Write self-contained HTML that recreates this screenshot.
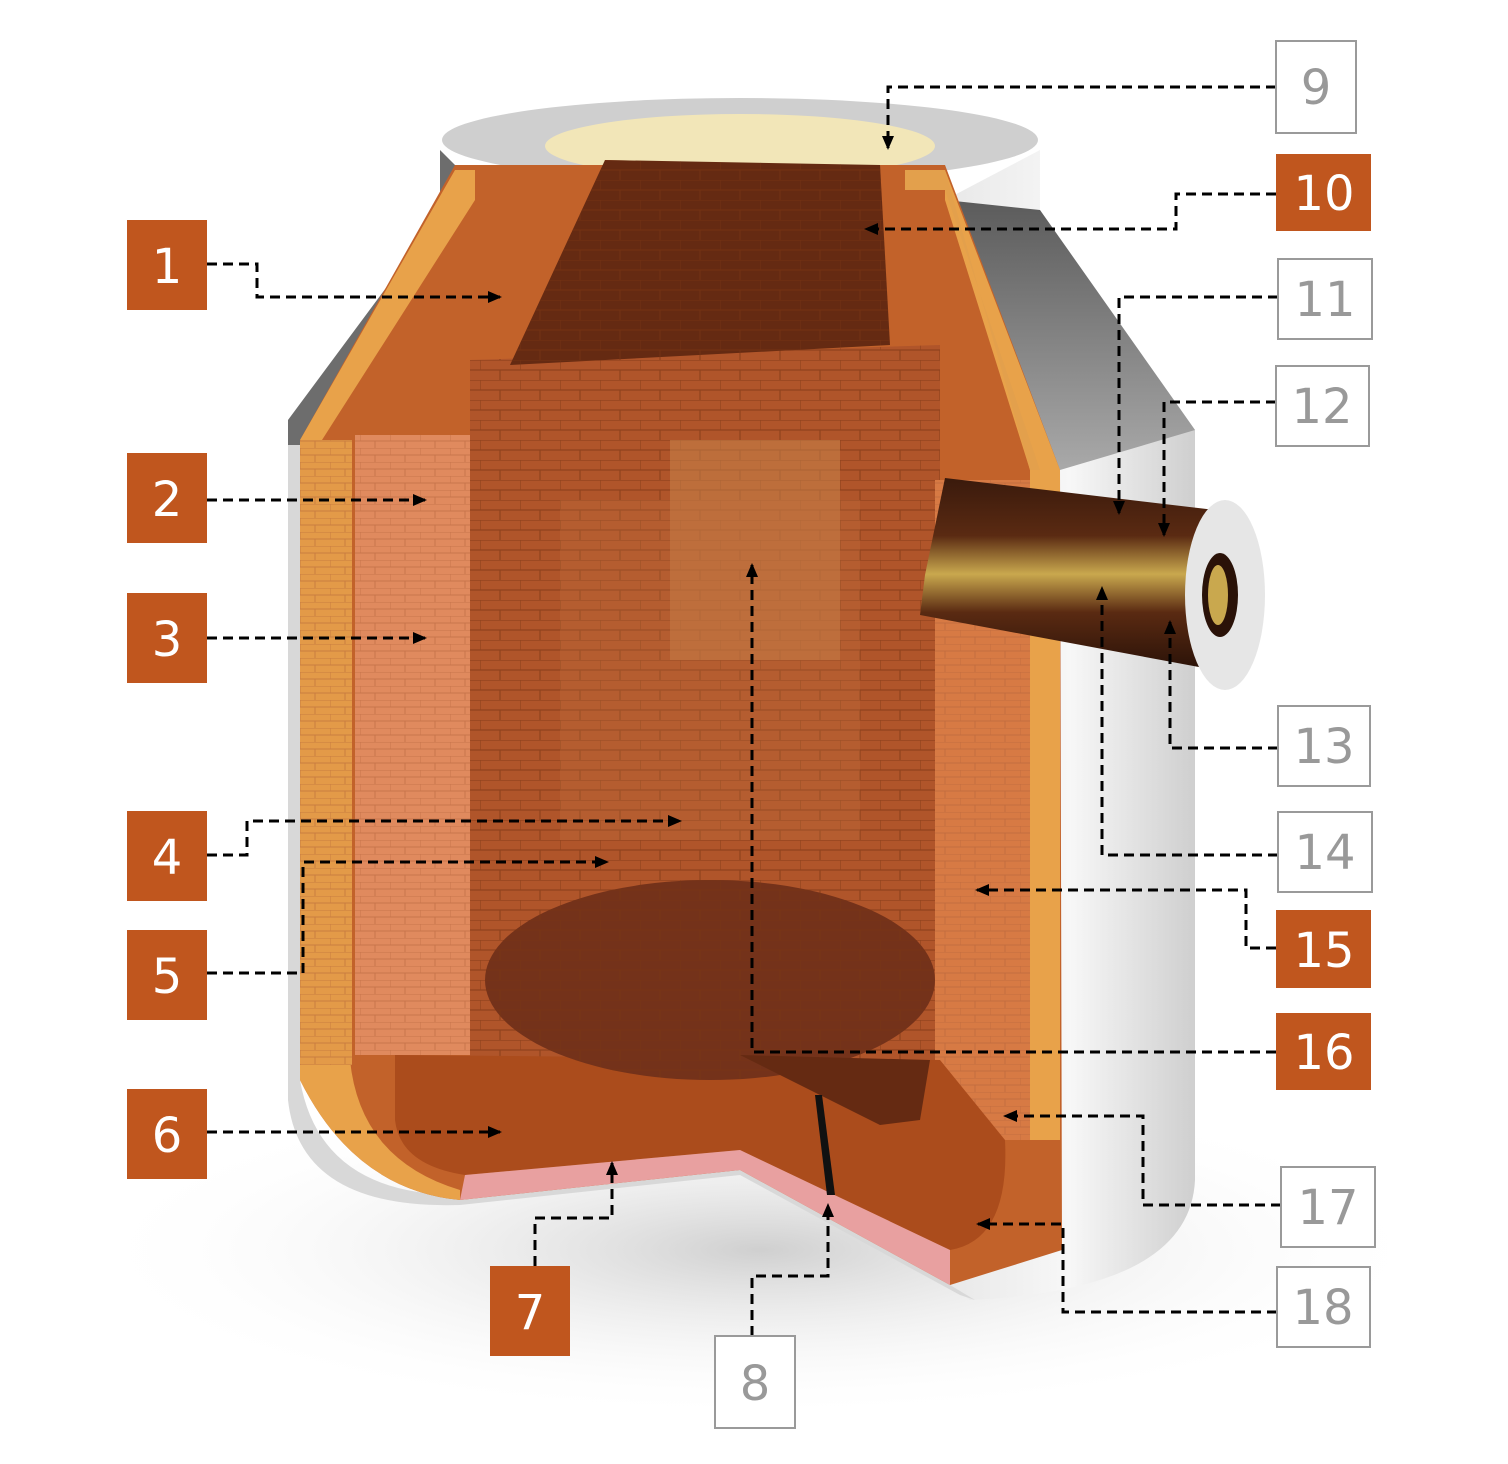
<!DOCTYPE html>
<html><head><meta charset="utf-8"><style>
html,body{margin:0;padding:0;background:#fff;}
svg{display:block;}
.lb{font-family:"DejaVu Sans","Liberation Sans",sans-serif;font-size:48px;text-anchor:middle;}
</style></head><body>
<svg width="1508" height="1464" viewBox="0 0 1508 1464" xmlns="http://www.w3.org/2000/svg">
<defs>
<pattern id="brick" width="40" height="20" patternUnits="userSpaceOnUse">
<path d="M0 0H40M0 10H40M0 0V10M20 10V20" stroke="#7a3414" stroke-width="1.2" opacity="0.6"/>
</pattern>
<pattern id="brickL" width="30" height="14" patternUnits="userSpaceOnUse">
<path d="M0 0H30M0 7H30M0 0V7M15 7V14" stroke="#b0603a" stroke-width="1" opacity="0.5"/>
</pattern>
<linearGradient id="shell" x1="0" x2="1" y1="0" y2="0">
<stop offset="0" stop-color="#e8e8e8"/><stop offset="0.5" stop-color="#f7f7f7"/><stop offset="1" stop-color="#cfcfcf"/>
</linearGradient>
<linearGradient id="cone" x1="0" x2="0" y1="0" y2="1">
<stop offset="0" stop-color="#5b5b5b"/><stop offset="1" stop-color="#a9a9a9"/>
</linearGradient>
<radialGradient id="shadow" cx="0.5" cy="0.5" r="0.5">
<stop offset="0" stop-color="#bbb" stop-opacity="0.7"/><stop offset="1" stop-color="#fff" stop-opacity="0"/>
</radialGradient>
<linearGradient id="pipe" x1="0" x2="0" y1="0" y2="1">
<stop offset="0" stop-color="#3a1a0c"/><stop offset="0.3" stop-color="#5a2a12"/><stop offset="0.5" stop-color="#c9a84e"/><stop offset="0.7" stop-color="#5a2a12"/><stop offset="1" stop-color="#2a1208"/>
</linearGradient>
<marker id="ar" markerWidth="14" markerHeight="14" refX="12" refY="6" orient="auto" markerUnits="userSpaceOnUse">
<path d="M0,0 L14,6 L0,12 Z" fill="#000"/>
</marker>
</defs>

<ellipse cx="760" cy="1250" rx="680" ry="170" fill="url(#shadow)"/>

<path d="M1040,150 L1040,210 L1195,430 L1195,1180 Q1190,1290 970,1300 L950,1285 L1060,1250 L1060,470 L945,200 Z" fill="url(#shell)"/>
<path d="M945,200 L1040,210 L1195,430 L1060,470 Z" fill="url(#cone)"/>
<path d="M440,150 L440,215 L288,420 L288,445 L300,445 L455,225 L455,165 Z" fill="#6d6d6d"/>
<path d="M300,445 L288,445 L288,1100 Q300,1210 460,1205 L740,1175 L960,1295 L975,1300 L950,1285 L740,1170 L460,1195 Q320,1195 300,1080 Z" fill="#d8d8d8"/>
<ellipse cx="740" cy="140" rx="298" ry="42" fill="#cfcfcf"/>
<ellipse cx="740" cy="146" rx="195" ry="32" fill="#f2e6b8"/>

<path d="M300,440 L455,165 L945,165 L1060,470 L1062,1250 L950,1285 L740,1170 L460,1200 Q355,1190 300,1080 Z" fill="#c2622a"/>
<path d="M300,440 L455,170 L475,170 L475,200 L322,440 L350,1060 Q360,1160 460,1190 L460,1200 Q355,1190 300,1080 Z" fill="#e8a24a"/>
<rect x="300" y="440" width="52" height="625" fill="#e39a48"/>
<rect x="300" y="440" width="52" height="625" fill="url(#brickL)"/>
<rect x="355" y="435" width="115" height="620" fill="#e08a5e"/>
<rect x="355" y="435" width="115" height="620" fill="url(#brickL)"/>
<path d="M470,360 L940,345 L940,1060 L470,1060 Z" fill="#b0552a"/>
<path d="M470,360 L940,345 L940,1060 L470,1060 Z" fill="url(#brick)"/>
<rect x="670" y="440" width="170" height="220" fill="#c98448" opacity="0.55"/>
<rect x="560" y="500" width="300" height="340" fill="#c07040" opacity="0.3"/>
<path d="M605,160 L880,165 L890,345 L510,365 Z" fill="#652a12"/>
<path d="M605,160 L880,165 L890,345 L510,365 Z" fill="url(#brick)"/>
<path d="M945,170 L945,200 L1030,470 L1030,1140 L1060,1140 L1060,470 L945,170 Z" fill="#e8a24a"/>
<path d="M905,170 L945,170 L1030,470 L1040,470 L945,190 L905,190 Z" fill="#e3a04c"/>
<rect x="935" y="480" width="95" height="660" fill="#d77a44"/>
<rect x="935" y="480" width="95" height="660" fill="url(#brickL)"/>
<path d="M395,1055 L940,1060 L1005,1140 Q1010,1240 950,1250 L740,1150 L465,1175 Q400,1165 395,1120 Z" fill="#ab4c1c"/>
<path d="M465,1175 L740,1150 L950,1250 L950,1285 L740,1170 L460,1200 Z" fill="#e8a0a0"/>
<ellipse cx="710" cy="980" rx="225" ry="100" fill="#74321a"/>
<ellipse cx="710" cy="980" rx="225" ry="100" fill="url(#brick)"/>
<path d="M740,1055 L930,1060 L920,1120 L880,1125 Z" fill="#652a12"/>
<path d="M815,1095 L822,1095 L835,1195 L827,1195 Z" fill="#111"/>
<path d="M945,478 L1215,510 L1215,670 L920,615 L925,575 Z" fill="url(#pipe)"/>
<ellipse cx="1225" cy="595" rx="40" ry="95" fill="#e6e6e6"/>
<ellipse cx="1220" cy="595" rx="18" ry="42" fill="#2a1208"/>
<ellipse cx="1218" cy="595" rx="10" ry="30" fill="#c9a84e"/>

<g fill="none" stroke="#000" stroke-width="3" stroke-dasharray="10,6">
<path d="M207,264 H257 V297 H500" marker-end="url(#ar)"/>
<path d="M207,500 H425" marker-end="url(#ar)"/>
<path d="M207,638 H425" marker-end="url(#ar)"/>
<path d="M207,855 H247 V821 H680" marker-end="url(#ar)"/>
<path d="M207,973 H303 V862 H607" marker-end="url(#ar)"/>
<path d="M207,1132 H500" marker-end="url(#ar)"/>
<path d="M535,1266 V1218 H612 V1163" marker-end="url(#ar)"/>
<path d="M752,1336 V1276 H828 V1205" marker-end="url(#ar)"/>
<path d="M1276,87 H888 V148" marker-end="url(#ar)"/>
<path d="M1276,194 H1176 V229 H866" marker-end="url(#ar)"/>
<path d="M1278,297 H1119 V513" marker-end="url(#ar)"/>
<path d="M1276,402 H1164 V535" marker-end="url(#ar)"/>
<path d="M1278,748 H1170 V622" marker-end="url(#ar)"/>
<path d="M1278,855 H1102 V588" marker-end="url(#ar)"/>
<path d="M1276,948 H1246 V890 H977" marker-end="url(#ar)"/>
<path d="M1276,1052 H752 V565" marker-end="url(#ar)"/>
<path d="M1281,1205 H1143 V1116 H1005" marker-end="url(#ar)"/>
<path d="M1277,1312 H1063 V1224 H978" marker-end="url(#ar)"/>
</g>

<g fill="#c0561e">
<rect x="127" y="220" width="80" height="90"/>
<rect x="127" y="453" width="80" height="90"/>
<rect x="127" y="593" width="80" height="90"/>
<rect x="127" y="811" width="80" height="90"/>
<rect x="127" y="930" width="80" height="90"/>
<rect x="127" y="1089" width="80" height="90"/>
<rect x="490" y="1266" width="80" height="90"/>
<rect x="1276" y="154" width="95" height="77"/>
<rect x="1276" y="910" width="95" height="78"/>
<rect x="1276" y="1013" width="95" height="77"/>
</g>
<g>
<text class="lb" x="167" y="283" fill="#fff">1</text>
<text class="lb" x="167" y="516" fill="#fff">2</text>
<text class="lb" x="167" y="656" fill="#fff">3</text>
<text class="lb" x="167" y="874" fill="#fff">4</text>
<text class="lb" x="167" y="993" fill="#fff">5</text>
<text class="lb" x="167" y="1152" fill="#fff">6</text>
<text class="lb" x="530" y="1329" fill="#fff">7</text>
<text class="lb" x="1324" y="210" fill="#fff">10</text>
<text class="lb" x="1324" y="967" fill="#fff">15</text>
<text class="lb" x="1324" y="1069" fill="#fff">16</text>
</g>
<g fill="#fff" stroke="#9a9a9a" stroke-width="2">
<rect x="1276" y="41" width="80" height="92"/>
<rect x="1278" y="259" width="94" height="80"/>
<rect x="1276" y="366" width="93" height="80"/>
<rect x="1278" y="706" width="92" height="80"/>
<rect x="1278" y="812" width="94" height="80"/>
<rect x="1281" y="1167" width="94" height="80"/>
<rect x="1277" y="1267" width="93" height="80"/>
<rect x="715" y="1336" width="80" height="92"/>
</g>
<g>
<text class="lb" x="1316" y="104" fill="#999">9</text>
<text class="lb" x="1325" y="316" fill="#999">11</text>
<text class="lb" x="1322" y="423" fill="#999">12</text>
<text class="lb" x="1324" y="763" fill="#999">13</text>
<text class="lb" x="1325" y="869" fill="#999">14</text>
<text class="lb" x="1328" y="1224" fill="#999">17</text>
<text class="lb" x="1323" y="1324" fill="#999">18</text>
<text class="lb" x="755" y="1400" fill="#999">8</text>
</g>
</svg>
</body></html>
